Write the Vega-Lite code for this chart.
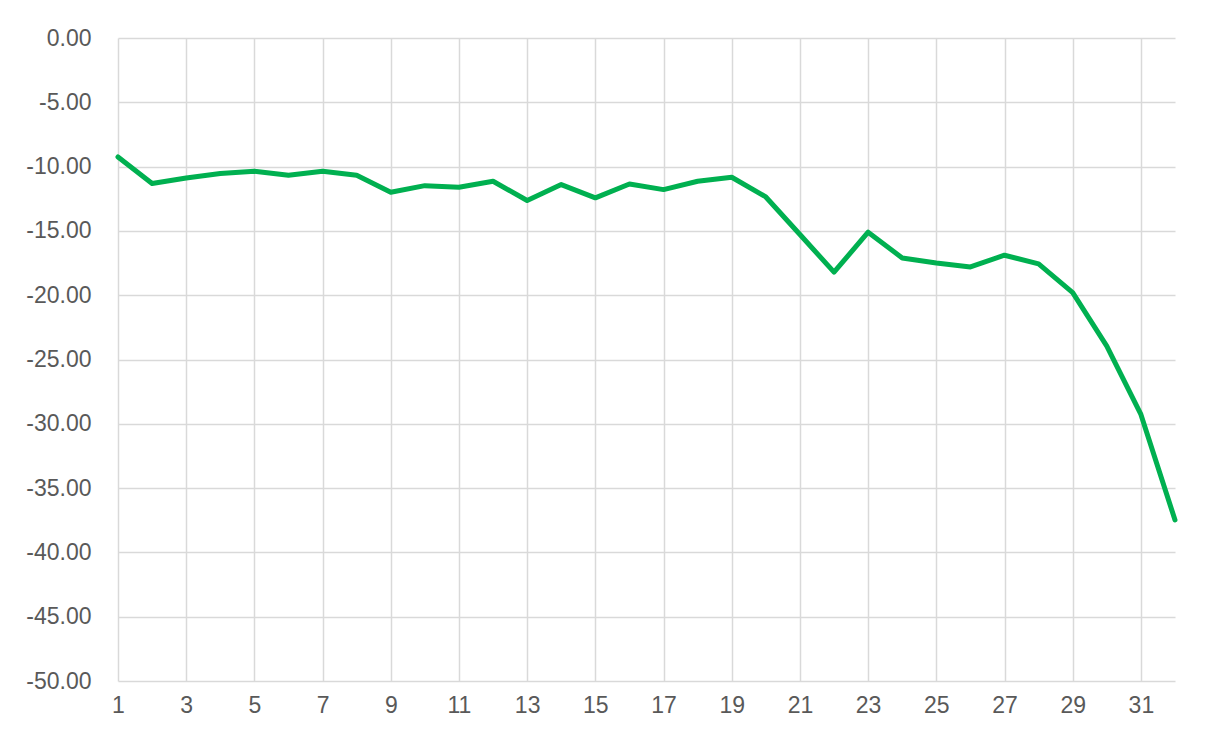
{
  "$schema": "https://vega.github.io/schema/vega-lite/v6.json",
  "autosize": {"type": "none"},
  "padding": {"left": 118, "top": 38, "right": 38, "bottom": 53},
  "width": 1057,
  "height": 643,
  "background": "white",
  "data": {"values": [
    {"day": 1, "value": -9.25},
    {"day": 2, "value": -11.32},
    {"day": 3, "value": -10.88},
    {"day": 4, "value": -10.54},
    {"day": 5, "value": -10.36},
    {"day": 6, "value": -10.67},
    {"day": 7, "value": -10.36},
    {"day": 8, "value": -10.67},
    {"day": 9, "value": -12.0},
    {"day": 10, "value": -11.48},
    {"day": 11, "value": -11.6},
    {"day": 12, "value": -11.14},
    {"day": 13, "value": -12.64},
    {"day": 14, "value": -11.4},
    {"day": 15, "value": -12.43},
    {"day": 16, "value": -11.35},
    {"day": 17, "value": -11.79},
    {"day": 18, "value": -11.14},
    {"day": 19, "value": -10.83},
    {"day": 20, "value": -12.36},
    {"day": 21, "value": -15.28},
    {"day": 22, "value": -18.21},
    {"day": 23, "value": -15.1},
    {"day": 24, "value": -17.1},
    {"day": 25, "value": -17.49},
    {"day": 26, "value": -17.8},
    {"day": 27, "value": -16.89},
    {"day": 28, "value": -17.56},
    {"day": 29, "value": -19.8},
    {"day": 30, "value": -23.96},
    {"day": 31, "value": -29.27},
    {"day": 32, "value": -37.48}
  ]},
  "mark": {"type": "line", "color": "#00B050", "strokeWidth": 5, "strokeCap": "round", "strokeJoin": "round"},
  "encoding": {
    "x": {
      "field": "day", "type": "quantitative",
      "scale": {"domain": [1, 32], "nice": false, "zero": false},
      "axis": {
        "title": null, "values": [1,3,5,7,9,11,13,15,17,19,21,23,25,27,29,31],
        "domain": false, "ticks": false, "grid": true, "gridColor": "#d9d9d9", "gridWidth": 1.5,
        "labelFont": "Liberation Sans", "labelFontSize": 23, "labelColor": "#595959",
        "labelPadding": 13, "labelFlush": false, "labelOverlap": false
      }
    },
    "y": {
      "field": "value", "type": "quantitative",
      "scale": {"domain": [-50, 0], "nice": false},
      "axis": {
        "title": null, "values": [0,-5,-10,-15,-20,-25,-30,-35,-40,-45,-50],
        "labelExpr": "replace(format(datum.value, '.2f'), '\u2212', '-')",
        "domain": false, "ticks": false, "grid": true, "gridColor": "#d9d9d9", "gridWidth": 1.5,
        "labelFont": "Liberation Sans", "labelFontSize": 23, "labelColor": "#595959",
        "labelPadding": 27, "labelFlush": false, "labelOverlap": false
      }
    }
  },
  "config": {"view": {"stroke": null}}
}
